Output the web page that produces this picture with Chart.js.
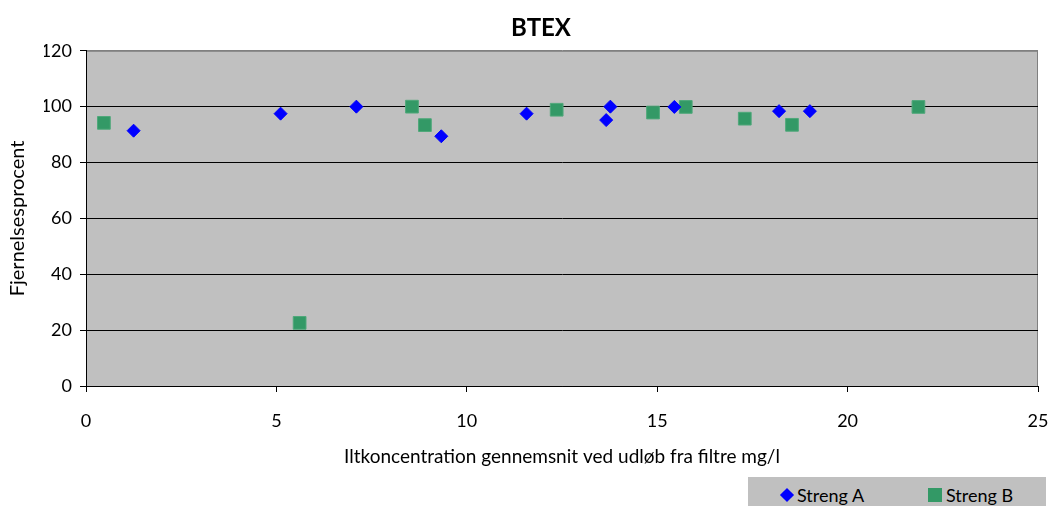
<!DOCTYPE html>
<html>
<head>
<meta charset="utf-8">
<script src="https://cdn.jsdelivr.net/npm/chart.js@4/dist/chart.umd.min.js"></script>
<style>
  body { margin: 0; background: #fff; }
  #wrap { position: relative; width: 1050px; height: 506px; }
  #legend {
    position: absolute; left: 748px; top: 477px; width: 298px; height: 29px;
    background: #c0c0c0; font-family: Lato, sans-serif; font-size: 18px; color: #000;
  }
  #legend span { position: absolute; }
  .dia { width: 10px; height: 10px; background: #0000ff; transform: rotate(45deg); left: 34px; top: 13px; }
  .sq { width: 14px; height: 14px; background: #339966; left: 180px; top: 11px; }
  .lbl { top: 8px; line-height: 20px; }
</style>
</head>
<body>
<div id="wrap">
  <canvas id="chart" width="1050" height="506"></canvas>
  <div id="legend">
    <span class="dia"></span><span class="lbl" style="left:49px">Streng A</span>
    <span class="sq"></span><span class="lbl" style="left:198px">Streng B</span>
  </div>
</div>
<script>
// Streng A / Streng B: oxygen (mg/l) vs removal (%)
var strengAX = [1.25, 5.11, 7.10, 9.33, 11.57, 13.66, 13.77, 15.45, 18.2, 19.01];
var strengAY = [91.4, 97.5, 100, 89.4, 97.5, 95.2, 100, 99.9, 98.4, 98.4];
var strengBX = [0.47, 5.61, 8.56, 8.90, 12.36, 14.89, 15.75, 17.30, 18.54, 21.86];
var strengBY = [94.2, 22.6, 100, 93.4, 98.9, 97.9, 99.9, 95.7, 93.5, 99.9];

var toPoints = function (xs, ys) {
  return xs.map(function (x, i) { return {x: x, y: ys[i]}; });
};

var font = 'Lato';

// grey plot area with a grey frame, axes draw black on top
var plotBg = {
  id: 'plotBg',
  beforeDraw: function (chart) {
    var a = chart.chartArea, ctx = chart.ctx;
    ctx.save();
    ctx.fillStyle = '#c0c0c0';
    ctx.fillRect(a.left, a.top, a.right - a.left, a.bottom - a.top);
    ctx.strokeStyle = '#808080';
    ctx.lineWidth = 1;
    ctx.strokeRect(a.left + 0.5, a.top + 0.5, a.right - a.left - 1, a.bottom - a.top);
    ctx.restore();
  }
};

new Chart(document.getElementById('chart'), {
  type: 'scatter',
  data: {
    datasets: [
      {
        label: 'Streng A',
        data: toPoints(strengAX, strengAY),
        pointStyle: 'rectRot',
        pointRadius: 6.5,
        backgroundColor: '#0000ff',
        borderColor: '#0000ff',
        borderWidth: 1
      },
      {
        label: 'Streng B',
        data: toPoints(strengBX, strengBY),
        pointStyle: 'rect',
        pointRadius: 9,
        backgroundColor: '#339966',
        borderColor: '#4fa87a',
        borderWidth: 1
      }
    ]
  },
  options: {
    responsive: false,
    animation: false,
    // left padding pushes the title centre right, as in the original
    layout: {padding: {top: 0, right: 12, bottom: 29, left: 44}},
    plugins: {
      legend: {display: false},
      tooltip: {enabled: false},
      title: {
        display: true,
        text: 'BTEX',
        color: '#000',
        font: {family: font, size: 24, weight: 'bold', lineHeight: 1.2},
        padding: {top: 14, bottom: 8}
      }
    },
    scales: {
      x: {
        type: 'linear',
        min: 0,
        max: 25,
        ticks: {stepSize: 5, color: '#000', padding: 18, font: {family: font, size: 18}},
        grid: {drawOnChartArea: false, drawTicks: true, tickLength: 6, tickColor: '#000'},
        border: {color: '#000'},
        title: {
          display: true,
          text: 'Iltkoncentration gennemsnit ved udløb fra filtre mg/l',
          color: '#000',
          font: {family: font, size: 19},
          padding: {bottom: 9}
        },
        afterFit: function (s) { s.height = 91; s.paddingLeft = 0; s.paddingRight = 0; }
      },
      y: {
        min: 0,
        max: 120,
        ticks: {stepSize: 20, color: '#000', padding: 8, font: {family: font, size: 18}},
        grid: {
          color: function (c) { return c.tick && c.tick.value === 120 ? '#808080' : '#000'; },
          tickColor: '#000',
          tickLength: 6
        },
        border: {color: '#000'},
        title: {
          display: true,
          text: 'Fjernelsesprocent',
          color: '#000',
          font: {family: font, size: 20},
          padding: {top: -38}
        },
        afterFit: function (s) { s.width = 42; s.paddingTop = 0; s.paddingBottom = 0; }
      }
    }
  },
  plugins: [plotBg]
});
</script>
</body>
</html>
